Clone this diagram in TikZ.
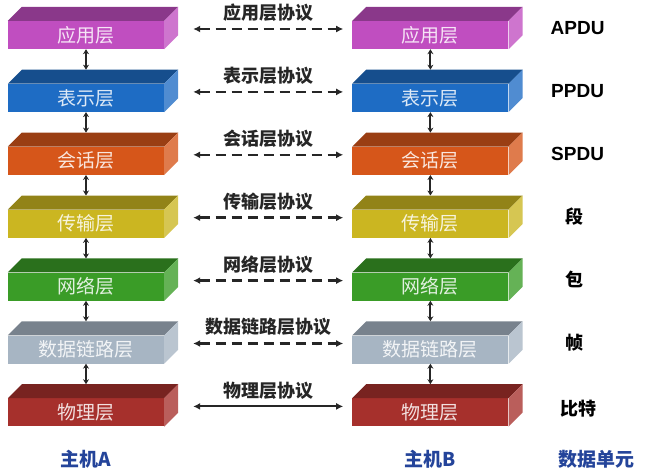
\documentclass[tikz,border=0pt]{standalone}
\usepackage{fontspec}
\setmainfont{Liberation Sans}
\newfontfamily\cjk{Noto Sans CJK SC}
\usepackage{xcolor}
\usepackage{tikz}
\usetikzlibrary{positioning,arrows.meta,calc}

\definecolor{appc}{HTML}{C04EC0}
\definecolor{presc}{HTML}{1E6CC4}
\definecolor{sessc}{HTML}{D6561A}
\definecolor{transc}{HTML}{CBB621}
\definecolor{netc}{HTML}{3A9C27}
\definecolor{linkc}{HTML}{A7B5C3}
\definecolor{physc}{HTML}{A6302C}
\definecolor{hostc}{HTML}{24449A}

% top and side faces of a slab
\newcommand{\slabfaces}[2]{%
  \fill[#2!72!black] (#1.north west) -- ++(14pt,14pt)
      -- ([shift={(14pt,14pt)}]#1.north east) -- (#1.north east) -- cycle;
  \fill[#2!78!white] (#1.north east) -- ++(14pt,14pt)
      -- ([shift={(14pt,14pt)}]#1.south east) -- (#1.south east) -- cycle;
}

\begin{document}
\begin{tikzpicture}[
        x=1pt, y=-1pt,
        slab/.style={fill=#1, minimum width=156pt, minimum height=28pt, inner sep=0pt,
                     font=\cjk\fontsize{19}{19}\selectfont, text=white!85!#1},
        proto/.style={{Latex[length=7pt,width=7pt]}-{Latex[length=7pt,width=7pt]},
                      line width=2.5pt, black!85, dash pattern=on 10pt off 6pt},
        plabel/.style={font=\cjk\bfseries\fontsize{18}{18}\selectfont},
        stack/.style={{Stealth[length=5pt,width=6pt]}-{Stealth[length=5pt,width=6pt]},
                      line width=2pt, black!85},
        unit/.style={font=\bfseries\fontsize{19}{19}\selectfont},
        cunit/.style={font=\cjk\bfseries\fontsize{18}{18}\selectfont},
        host/.style={font=\cjk\bfseries\fontsize{19}{19}\selectfont, text=hostc},
        node distance=34.5pt and 188pt
    ]
    \useasboundingbox (0,0) rectangle (657,469);

    % ---- Host A ----
    \node[slab=appc] (appA) at (86,35) {应用层};
    \node[slab=presc, below=of appA] (presA) {表示层};
    \node[slab=sessc, below=of presA] (sessA) {会话层};
    \node[slab=transc, below=of sessA] (transA) {传输层};
    \node[slab=netc, below=of transA] (netA) {网络层};
    \node[slab=linkc, below=of netA] (linkA) {数据链路层};
    \node[slab=physc, below=of linkA] (physA) {物理层};

    % ---- Host B ----
    \node[slab=appc, right=of appA] (appB) {应用层};
    \node[slab=presc, right=of presA] (presB) {表示层};
    \node[slab=sessc, right=of sessA] (sessB) {会话层};
    \node[slab=transc, right=of transA] (transB) {传输层};
    \node[slab=netc, right=of netA] (netB) {网络层};
    \node[slab=linkc, right=of linkA] (linkB) {数据链路层};
    \node[slab=physc, right=of physA] (physB) {物理层};

    \foreach \n/\lc in {appA/appc, presA/presc, sessA/sessc, transA/transc, netA/netc,
                        linkA/linkc, physA/physc, appB/appc, presB/presc, sessB/sessc,
                        transB/transc, netB/netc, linkB/linkc, physB/physc}
        \slabfaces{\n}{\lc};

    % ---- Stack arrows ----
    \foreach \u/\d in {appA/presA, presA/sessA, sessA/transA, transA/netA, netA/linkA,
                       linkA/physA, appB/presB, presB/sessB, sessB/transB, transB/netB,
                       netB/linkB, linkB/physB}
        \draw[stack] (\u.south) -- ([yshift=14pt]\d.north);

    % ---- Peer protocols ----
    \draw[proto] ([xshift=29pt,yshift=6pt]appA.east) -- ([xshift=-9pt,yshift=6pt]appB.west)
        node[midway, above=3pt, plabel] (appP) {应用层协议};
    \draw[proto] ([xshift=29pt,yshift=6pt]presA.east) -- ([xshift=-9pt,yshift=6pt]presB.west)
        node[midway, above=3pt, plabel] (presP) {表示层协议};
    \draw[proto] ([xshift=29pt,yshift=6pt]sessA.east) -- ([xshift=-9pt,yshift=6pt]sessB.west)
        node[midway, above=3pt, plabel] (sessP) {会话层协议};
    \draw[proto] ([xshift=29pt,yshift=6pt]transA.east) -- ([xshift=-9pt,yshift=6pt]transB.west)
        node[midway, above=3pt, plabel] (transP) {传输层协议};
    \draw[proto] ([xshift=29pt,yshift=6pt]netA.east) -- ([xshift=-9pt,yshift=6pt]netB.west)
        node[midway, above=3pt, plabel] (netP) {网络层协议};
    \draw[proto] ([xshift=29pt,yshift=6pt]linkA.east) -- ([xshift=-9pt,yshift=6pt]linkB.west)
        node[midway, above=3pt, plabel] (linkP) {数据链路层协议};
    \draw[proto, solid, line width=2pt] ([xshift=29pt,yshift=6pt]physA.east) -- ([xshift=-9pt,yshift=6pt]physB.west)
        node[midway, above=3pt, plabel] (physP) {物理层协议};

    % ---- Data units ----
    \node[unit] (apdu) at ([xshift=69pt,yshift=7pt]appB.east) {APDU};
    \node[unit] (ppdu) at ([xshift=69pt,yshift=7pt]presB.east) {PPDU};
    \node[unit] (spdu) at ([xshift=69pt,yshift=7pt]sessB.east) {SPDU};
    \node[cunit] (seg) at ([xshift=66pt,yshift=7pt]transB.east) {段};
    \node[cunit] (pkt) at ([xshift=66pt,yshift=7pt]netB.east) {包};
    \node[cunit] (frame) at ([xshift=66pt,yshift=7pt]linkB.east) {帧};
    \node[cunit] (bit) at ([xshift=70pt,yshift=4pt]physB.east) {比特};

    % ---- Captions ----
    \node[host, below=20pt of physA] (hostA) {主机A};
    \node[host, below=20pt of physB] (hostB) {主机B};
    \node[host] (dunit) at ([xshift=19pt]hostB -| apdu) {数据单元};
\end{tikzpicture}
\end{document}
